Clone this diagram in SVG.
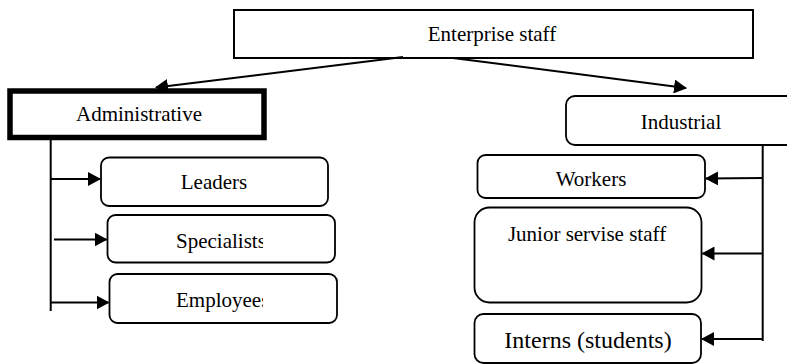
<svg xmlns="http://www.w3.org/2000/svg" width="787" height="364" viewBox="0 0 787 364">
<defs>
<style>
.box{fill:#fff;stroke:#000;stroke-width:1.8}
.t{font-family:"Liberation Serif",serif;font-size:21px;fill:#000;text-anchor:middle}
.s{text-anchor:start}
.c{fill:none;stroke:#000;stroke-width:2}
</style>
<marker id="ah" viewBox="0 0 13 14" refX="12" refY="7" markerWidth="6.5" markerHeight="7" markerUnits="strokeWidth" orient="auto">
<path d="M0,0 L13,7 L0,14 Z" fill="#000"/>
</marker>
<clipPath id="clipL"><rect x="0" y="0" width="263" height="364"/></clipPath>
</defs>
<rect width="787" height="364" fill="#fff"/>
<g id="enterprise">
<rect class="box" x="234" y="10" width="519" height="48" style="stroke-width:2"/>
<text class="t" x="492" y="41">Enterprise staff</text>
</g>
<g id="administrative">
<rect x="10" y="91" width="254" height="46.5" fill="#fff" stroke="#000" stroke-width="5.5"/>
<text class="t" x="139" y="121">Administrative</text>
</g>
<g id="industrial">
<rect class="box" x="566" y="96" width="240" height="49" rx="9"/>
<text class="t" x="681" y="129">Industrial</text>
</g>
<g id="leaders">
<rect class="box" x="101" y="157.5" width="227" height="48.5" rx="8"/>
<text class="t" x="214" y="189">Leaders</text>
</g>
<g id="specialists">
<rect class="box" x="107.5" y="215" width="227.5" height="47.5" rx="8"/>
<text class="t s" x="176" y="248" clip-path="url(#clipL)">Specialists</text>
</g>
<g id="employees">
<rect class="box" x="109.5" y="274" width="227.5" height="49" rx="8"/>
<text class="t s" x="176" y="306.5" clip-path="url(#clipL)">Employees</text>
</g>
<g id="workers">
<rect class="box" x="477.5" y="155" width="227.5" height="43" rx="8"/>
<text class="t" x="591" y="186">Workers</text>
</g>
<g id="junior">
<rect class="box" x="474.5" y="207.5" width="227" height="95" rx="15"/>
<text class="t" x="587" y="240.5">Junior servise staff</text>
</g>
<g id="interns">
<rect class="box" x="474.5" y="314" width="226.5" height="49" rx="9"/>
<text class="t" x="588" y="348" style="font-size:24px">Interns (students)</text>
</g>
<g id="connectors">
<line class="c" x1="403" y1="57" x2="156" y2="87.5" marker-end="url(#ah)"/>
<line class="c" x1="453" y1="58" x2="686" y2="88" marker-end="url(#ah)"/>
<line class="c" x1="50.7" y1="138" x2="50.7" y2="311"/>
<line class="c" x1="50.7" y1="179" x2="100" y2="179" marker-end="url(#ah)"/>
<line class="c" x1="54" y1="239.5" x2="106.5" y2="239.5" marker-end="url(#ah)"/>
<line class="c" x1="50.7" y1="302.5" x2="108.5" y2="302.5" marker-end="url(#ah)"/>
<line class="c" x1="762.7" y1="145" x2="762.7" y2="341"/>
<line class="c" x1="762.7" y1="178" x2="706" y2="178.5" marker-end="url(#ah)"/>
<line class="c" x1="762.7" y1="253.5" x2="702.5" y2="253.5" marker-end="url(#ah)"/>
<line class="c" x1="762.7" y1="339" x2="702" y2="339" marker-end="url(#ah)"/>
</g>
</svg>
